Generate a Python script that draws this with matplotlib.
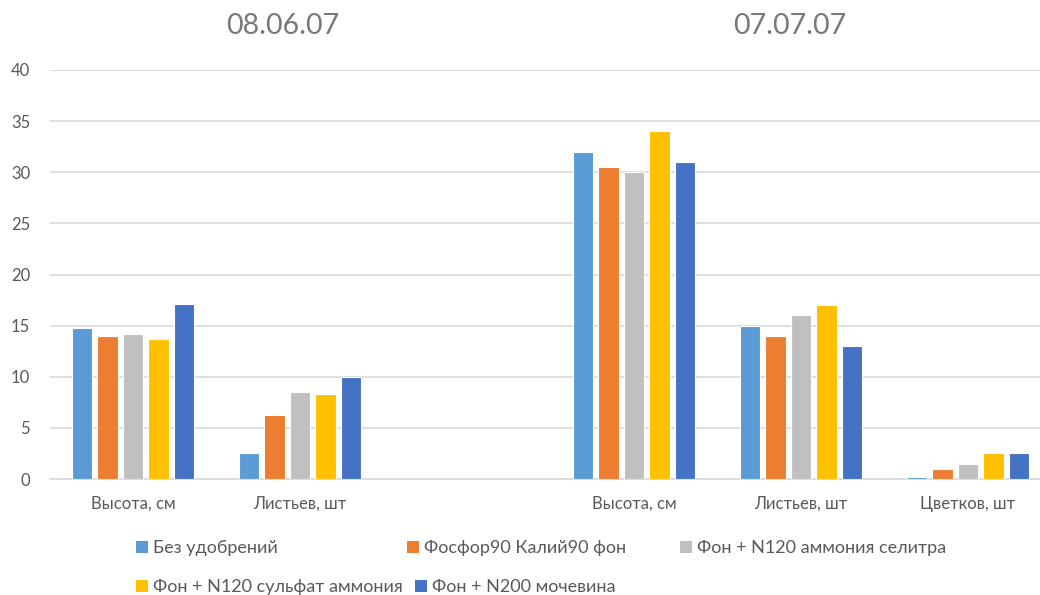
import matplotlib
matplotlib.use("Agg")
import matplotlib.pyplot as plt
from matplotlib.patches import Patch
import numpy as np

plt.rcParams['font.family'] = ['Lato', 'DejaVu Sans']

# category slots (one empty slot separates the two dates)
categories = ["Высота, см", "Листьев, шт", "", "Высота, см", "Листьев, шт", "Цветков, шт"]
series_names = [
    "Без удобрений",
    "Фосфор90 Калий90 фон",
    "Фон + N120 аммония селитра",
    "Фон + N120 сульфат аммония",
    "Фон + N200 мочевина",
]
no_fert   = [14.8, 2.5, 0, 32.0, 15.0, 0.2]
pk_base   = [14.0, 6.3, 0, 30.5, 14.0, 1.0]
an_nitr   = [14.2, 8.5, 0, 30.0, 16.0, 1.5]
an_sulf   = [13.7, 8.3, 0, 34.0, 17.0, 2.5]
urea      = [17.1, 10.0, 0, 31.0, 13.0, 2.5]
date_titles = ["08.06.07", "07.07.07"]
y_ticks = [0, 5, 10, 15, 20, 25, 30, 35, 40]

colors = ["#5B9BD5", "#ED7D31", "#BFC0BF", "#FFC000", "#4472C4"]
text_color = "#595959"
grid_color = "#D9D9D9"

fig = plt.figure(figsize=(10.4, 5.95), dpi=100)
W, H = 1040, 595
ax = fig.add_axes([49.5 / W, 116 / H, 1002 / W, 409 / H])

x = np.arange(len(categories))
bar_w = 0.122
step = 0.153
all_series = [no_fert, pk_base, an_nitr, an_sulf, urea]
for i, (vals, col) in enumerate(zip(all_series, colors)):
    xs = [xi + (i - 2) * step for xi, v in zip(x, vals) if categories[xi]]
    vs = [v for xi, v in zip(x, vals) if categories[xi]]
    ax.bar(xs, vs, width=bar_w, color=col, edgecolor="white", linewidth=0.8, zorder=3)

ax.set_xlim(-0.5, len(categories) - 0.5)
ax.set_ylim(0, 40)
ax.set_yticks(y_ticks)
ax.set_xticks(x)
ax.set_xticklabels(categories)
ax.tick_params(axis="y", length=0, pad=14, labelsize=12, labelcolor=text_color)
ax.tick_params(axis="x", length=0, pad=12, labelsize=12, labelcolor=text_color)
ax.yaxis.grid(True, color=grid_color, linewidth=1.2, zorder=0)
ax.set_axisbelow(True)
for s in ["top", "right", "left"]:
    ax.spines[s].set_visible(False)
ax.spines["bottom"].set_color(grid_color)
ax.spines["bottom"].set_linewidth(1.2)

# date headings above each group
fig.text(282.5 / W, 1 - 26 / H, date_titles[0], ha="center", va="center",
         fontsize=20.5, color="#787878")
fig.text(790 / W, 1 - 26 / H, date_titles[1], ha="center", va="center",
         fontsize=20.5, color="#787878")

# legend entries laid out in two rows
legend_pos = [(136, 548), (407, 548), (680, 548), (136, 587), (415, 587)]
for name, col, (lx, ly) in zip(series_names, colors, legend_pos):
    fig.legend(handles=[Patch(facecolor=col, edgecolor="none")], labels=[name],
               loc="center left", bbox_to_anchor=(lx / W, 1 - ly / H),
               frameon=False, fontsize=13, labelcolor=text_color,
               handlelength=0.65, handleheight=0.65, handletextpad=0.3,
               borderpad=0, borderaxespad=0)

fig.savefig("out.png", dpi=100, facecolor="white")
